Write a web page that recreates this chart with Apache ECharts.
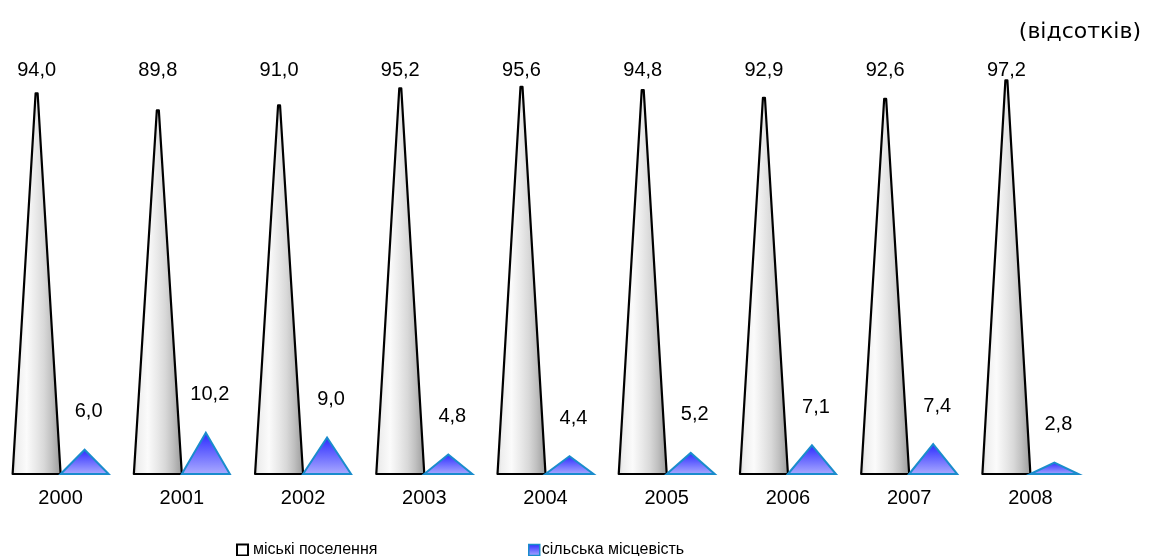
<!DOCTYPE html>
<html>
<head>
<meta charset="utf-8">
<script src="https://cdn.jsdelivr.net/npm/echarts@6/dist/echarts.min.js"></script>
<style>html,body{margin:0;padding:0;background:#fff}#c{width:1150px;height:556px}</style>
</head>
<body>
<div id="c"></div>
<script>
const years = ['2000','2001','2002','2003','2004','2005','2006','2007','2008'];
const urban = [94.0, 89.8, 91.0, 95.2, 95.6, 94.8, 92.9, 92.6, 97.2];
const rural = [6.0, 10.2, 9.0, 4.8, 4.4, 5.2, 7.1, 7.4, 2.8];
const unitLabel = '(відсотків)';
const seriesNames = ['міські поселення', 'сільська місцевість'];

const fmt = v => v.toFixed(1).replace('.', ',');
const font = 'Liberation Sans, Arial, sans-serif';
const LBL = 20;

function urbanFill() {
  return new echarts.graphic.LinearGradient(0, 0, 1, 0, [
    {offset: 0, color: '#d0d0d0'},
    {offset: 0.1, color: '#eeeeee'},
    {offset: 0.3, color: '#fbfbfb'},
    {offset: 0.5, color: '#e8e8e8'},
    {offset: 0.65, color: '#d8d8d8'},
    {offset: 0.8, color: '#c0c0c0'},
    {offset: 1, color: '#979797'}
  ]);
}
function ruralFill() {
  return new echarts.graphic.LinearGradient(0, 0, 0, 1, [
    {offset: 0, color: '#2828ff'},
    {offset: 1, color: '#adadff'}
  ]);
}

const HALF = 48; // px width of each shape

const chart = echarts.init(document.getElementById('c'), null, {renderer: 'canvas'});
chart.setOption({
  animation: false,
  backgroundColor: '#ffffff',
  textStyle: {fontFamily: font},
  title: {
    text: unitLabel,
    right: 4, top: 16,
    textStyle: {fontFamily: 'DejaVu Sans, sans-serif', fontSize: 22, fontWeight: 'normal', color: '#000'}
  },
  legend: [{
    data: [{name: seriesNames[0], icon: 'rect', itemStyle: {color: '#ffffff', borderColor: '#000', borderWidth: 2}}],
    left: 231, top: 537,
    itemWidth: 11, itemHeight: 11, itemGap: 4,
    textStyle: {fontFamily: font, fontSize: 16, color: '#000', padding: [0,0,0,0]}
  }, {
    data: [{name: seriesNames[1], icon: 'rect', itemStyle: {color: ruralFill(), borderColor: '#1a8ccc', borderWidth: 1.5}}],
    left: 523, top: 537,
    itemWidth: 11, itemHeight: 11, itemGap: 4,
    textStyle: {fontFamily: font, fontSize: 16, color: '#000', padding: [0,0,0,-3]}
  }],
  grid: {left: -2, right: 59, top: 69, bottom: 82, containLabel: false},
  xAxis: {
    type: 'category',
    data: years,
    axisLine: {show: false},
    axisTick: {show: false},
    axisLabel: {fontFamily: font, fontSize: 20, color: '#000', margin: 14}
  },
  yAxis: {type: 'value', min: 0, max: 100, show: false},
  series: [{
    name: seriesNames[0],
    type: 'custom',
    data: urban.map((v, i) => [i, v]),
    itemStyle: {color: '#ffffff', borderColor: '#000'},
    renderItem: (params, api) => {
      const i = api.value(0), v = api.value(1);
      const b = api.coord([i, 0]);
      const t = api.coord([i, v]);
      const lt = api.coord([i, 100]);
      const cx = b[0];
      return {
        type: 'group',
        children: [{
          type: 'polygon',
          shape: {points: [[cx - HALF, b[1]], [cx - HALF / 2 - 1, t[1]], [cx - HALF / 2 + 1, t[1]], [cx, b[1]]]},
          style: {fill: urbanFill(), stroke: '#000', lineWidth: 2.2, lineJoin: 'round'}
        }, {
          type: 'text',
          style: {text: fmt(v), x: cx - HALF / 2, y: lt[1] + 1, align: 'center', verticalAlign: 'middle',
                  font: LBL + 'px ' + font, fill: '#000'}
        }]
      };
    },
    z: 3
  }, {
    name: seriesNames[1],
    type: 'custom',
    data: rural.map((v, i) => [i, v]),
    itemStyle: {color: '#5a5aff', borderColor: '#1a8ccc'},
    renderItem: (params, api) => {
      const i = api.value(0), v = api.value(1);
      const b = api.coord([i, 0]);
      const t = api.coord([i, v]);
      const cx = b[0];
      return {
        type: 'group',
        children: [{
          type: 'polygon',
          shape: {points: [[cx, b[1]], [cx + HALF / 2, t[1]], [cx + HALF, b[1]]]},
          style: {fill: ruralFill(), stroke: '#1a8ccc', lineWidth: 2, lineJoin: 'miter'}
        }, {
          type: 'text',
          style: {text: fmt(v), x: cx + HALF / 2 + 4, y: t[1] - 38, align: 'center', verticalAlign: 'middle',
                  font: LBL + 'px ' + font, fill: '#000'}
        }]
      };
    },
    z: 3
  }]
});
</script>
</body>
</html>
